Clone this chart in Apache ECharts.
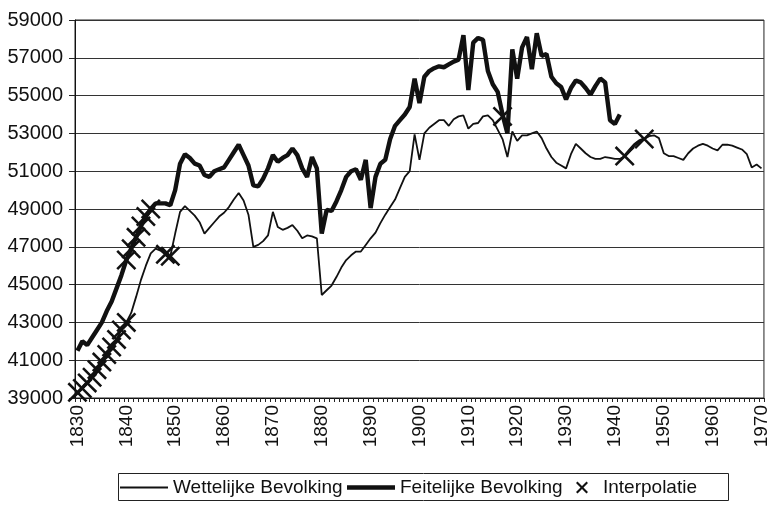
<!DOCTYPE html>
<html><head><meta charset="utf-8">
<script src="https://cdn.jsdelivr.net/npm/echarts@6/dist/echarts.min.js"></script>
<style>html,body{margin:0;padding:0;background:#fff}#c{width:771px;height:505px}</style>
</head><body><div id="c"></div>
<script>
const startYear = 1830, endYear = 1970;
const years = [];
for (let y = startYear; y <= endYear; y++) years.push(String(y));

// Wettelijke Bevolking 1830-1970
const wettelijke = [
 39300,39500,39800,40100,40500,40900,41300,41700,42100,42600, // 1830
 43000,43500,44350,45250,46000,46650,46900,46800,46600,46500, // 1840
 47700,48850,49150,48900,48650,48300,47700,48000,48300,48600, // 1850
 48800,49100,49500,49850,49450,48700,47000,47100,47300,47600, // 1860
 48850,48050,47900,48000,48150,47850,47450,47600,47550,47450, // 1870
 44450,44700,44950,45400,45900,46300,46550,46750,46750,47100, // 1880
 47450,47750,48250,48700,49100,49500,50100,50700,51000,52950, // 1890
 51600,53000,53300,53500,53700,53700,53400,53750,53900,53950, // 1900
 53250,53500,53550,53900,53950,53700,53200,52700,51750,53100, // 1910
 52600,52900,52900,53000,53100,52750,52200,51750,51450,51300, // 1920
 51150,51900,52450,52200,51950,51750,51650,51650,51750,51700, // 1930
 51650,51650,51800,52100,52400,52600,52700,52850,52900,52750, // 1940
 51950,51800,51800,51700,51600,51950,52200,52350,52450,52350, // 1950
 52200,52100,52400,52400,52350,52250,52150,51900,51200,51350, // 1960
 51150                                                        // 1970
];

// Feitelijke Bevolking 1830-1941
const feitelijke = [
 41500,42000,41800,42200,42600,43000,43600,44100,44800,45500, // 1830
 46300,46900,47500,48100,48600,49000,49300,49300,49300,49200, // 1840
 50000,51400,51900,51700,51400,51300,50800,50700,51000,51100, // 1850
 51200,51600,52000,52400,51850,51300,50250,50200,50600,51150, // 1860
 51850,51500,51700,51850,52200,51850,51150,50700,51750,51150, // 1870
 47700,48950,48900,49400,50000,50700,51000,51100,50550,51600, // 1880
 49050,50700,51400,51600,52700,53400,53700,54000,54400,55900, // 1890
 54600,56000,56300,56450,56550,56500,56650,56800,56900,58200, // 1900
 55300,57800,58050,57950,56300,55600,55200,54000,53000,57450, // 1910
 55900,57550,58100,56400,58300,57100,57200,56000,55650,55450, // 1920
 54800,55400,55800,55700,55400,55050,55500,55900,55700,53700, // 1930
 53500,54000                                                  // 1940
];

// Interpolatie markers (year, value)
const interpYears = [
 1830,1831,1832,1833,1834,1835,1836,1837,1838,1839,1840,
 1840,1841,1842,1843,1844,1845,
 1848,1849,
 1917,
 1942,1946
];
const interpValues = [
 39300,39500,39800,40100,40500,40900,41300,41700,42100,42600,43000,
 46300,46900,47500,48100,48600,49000,
 46600,46500,
 53900,
 51800,52700
];
// years of the Wettelijke line drawn heavier between interpolation points
const heavyYears = [1942,1943,1944,1945,1946];

const yMin = 39000, yMax = 59000, yStep = 2000;
const FONT = "'Liberation Sans', Arial, sans-serif";
const INK = '#111';

const feitData = years.map((y, i) => i < feitelijke.length ? feitelijke[i] : null);
const heavyData = years.map((y, i) => heavyYears.indexOf(+y) >= 0 ? wettelijke[i] : null);
const interpData = interpYears.map((y, i) => [String(y), interpValues[i]]);

const X_SYMBOL = 'path://M0,1.8L1.8,0L10,8.2L18.2,0L20,1.8L11.8,10L20,18.2L18.2,20L10,11.8L1.8,20L0,18.2L8.2,10Z';
const ICON_THIN = 'path://M0,0L0.01,0L0,0.01Z M48,12L47.99,12L48,11.99Z M0,5.1L48,5.1L48,6.9L0,6.9Z';
const ICON_THICK = 'path://M0,0L0.01,0L0,0.01Z M48,12L47.99,12L48,11.99Z M0,3.7L48,3.7L48,8.3L0,8.3Z';
const ICON_X = 'path://M0,0L0.01,0L0,0.01Z M22,12L21.99,12L22,11.99Z M0,1.5L1.5,0L6,4.5L10.5,0L12,1.5L7.5,6L12,10.5L10.5,12L6,7.5L1.5,12L0,10.5L4.5,6Z';

const legendBase = {
  top: 478, orient: 'horizontal', selectedMode: false, padding: 0,
  itemHeight: 12, symbolKeepAspect: true,
  itemStyle: { opacity: 1 },
  textStyle: { fontFamily: FONT, fontSize: 19, color: INK }
};

const chart = echarts.init(document.getElementById('c'), null, { renderer: 'canvas' });
chart.setOption({
  animation: false,
  backgroundColor: '#fff',
  grid: { left: 75, right: 5, top: 20, bottom: 107, show: true, borderColor: '#222', borderWidth: 1, containLabel: false },
  xAxis: {
    type: 'category', data: years, boundaryGap: true,
    axisLine: { show: true, lineStyle: { color: '#111', width: 1 } },
    axisTick: { show: true, interval: 0, length: 4, lineStyle: { color: '#222' } },
    axisLabel: { interval: 9, rotate: 90, margin: 7, fontFamily: FONT, fontSize: 19, color: INK },
    splitLine: { show: false }
  },
  yAxis: {
    type: 'value', min: yMin, max: yMax, interval: yStep,
    axisLine: { show: true, lineStyle: { color: '#111', width: 1 } },
    axisTick: { show: true, length: 6, lineStyle: { color: '#222' } },
    axisLabel: { margin: 12, fontFamily: FONT, fontSize: 20, color: INK, formatter: v => String(v) },
    splitLine: { show: true, lineStyle: { color: '#333', width: 1 } }
  },
  legend: [
    Object.assign({}, legendBase, { left: 120, itemWidth: 48, data: [{ name: 'Wettelijke Bevolking', icon: ICON_THIN }] }),
    Object.assign({}, legendBase, { left: 347, itemWidth: 48, data: [{ name: 'Feitelijke Bevolking', icon: ICON_THICK }] }),
    Object.assign({}, legendBase, { left: 576, itemWidth: 22, data: [{ name: 'Interpolatie', icon: ICON_X }] })
  ],
  graphic: [{
    type: 'rect', shape: { x: 118.5, y: 473.5, width: 610, height: 27 },
    style: { fill: 'none', stroke: '#222', lineWidth: 1 }, silent: true
  }],
  series: [
    { name: 'Wettelijke Bevolking', type: 'line', data: wettelijke, symbol: 'none', color: INK,
      lineStyle: { color: INK, width: 1.8 }, z: 3 },
    { name: 'Feitelijke Bevolking', type: 'line', data: feitData, symbol: 'none', color: INK,
      lineStyle: { color: INK, width: 4.4 }, z: 4, connectNulls: false },
    { name: 'heavy', type: 'line', data: heavyData, symbol: 'none', color: INK,
      lineStyle: { color: INK, width: 3.2 }, z: 4, connectNulls: false },
    { name: 'Interpolatie', type: 'scatter', data: interpData, symbol: X_SYMBOL, symbolSize: 20,
      color: INK, itemStyle: { color: INK, opacity: 1 }, z: 5 }
  ]
});
</script></body></html>
